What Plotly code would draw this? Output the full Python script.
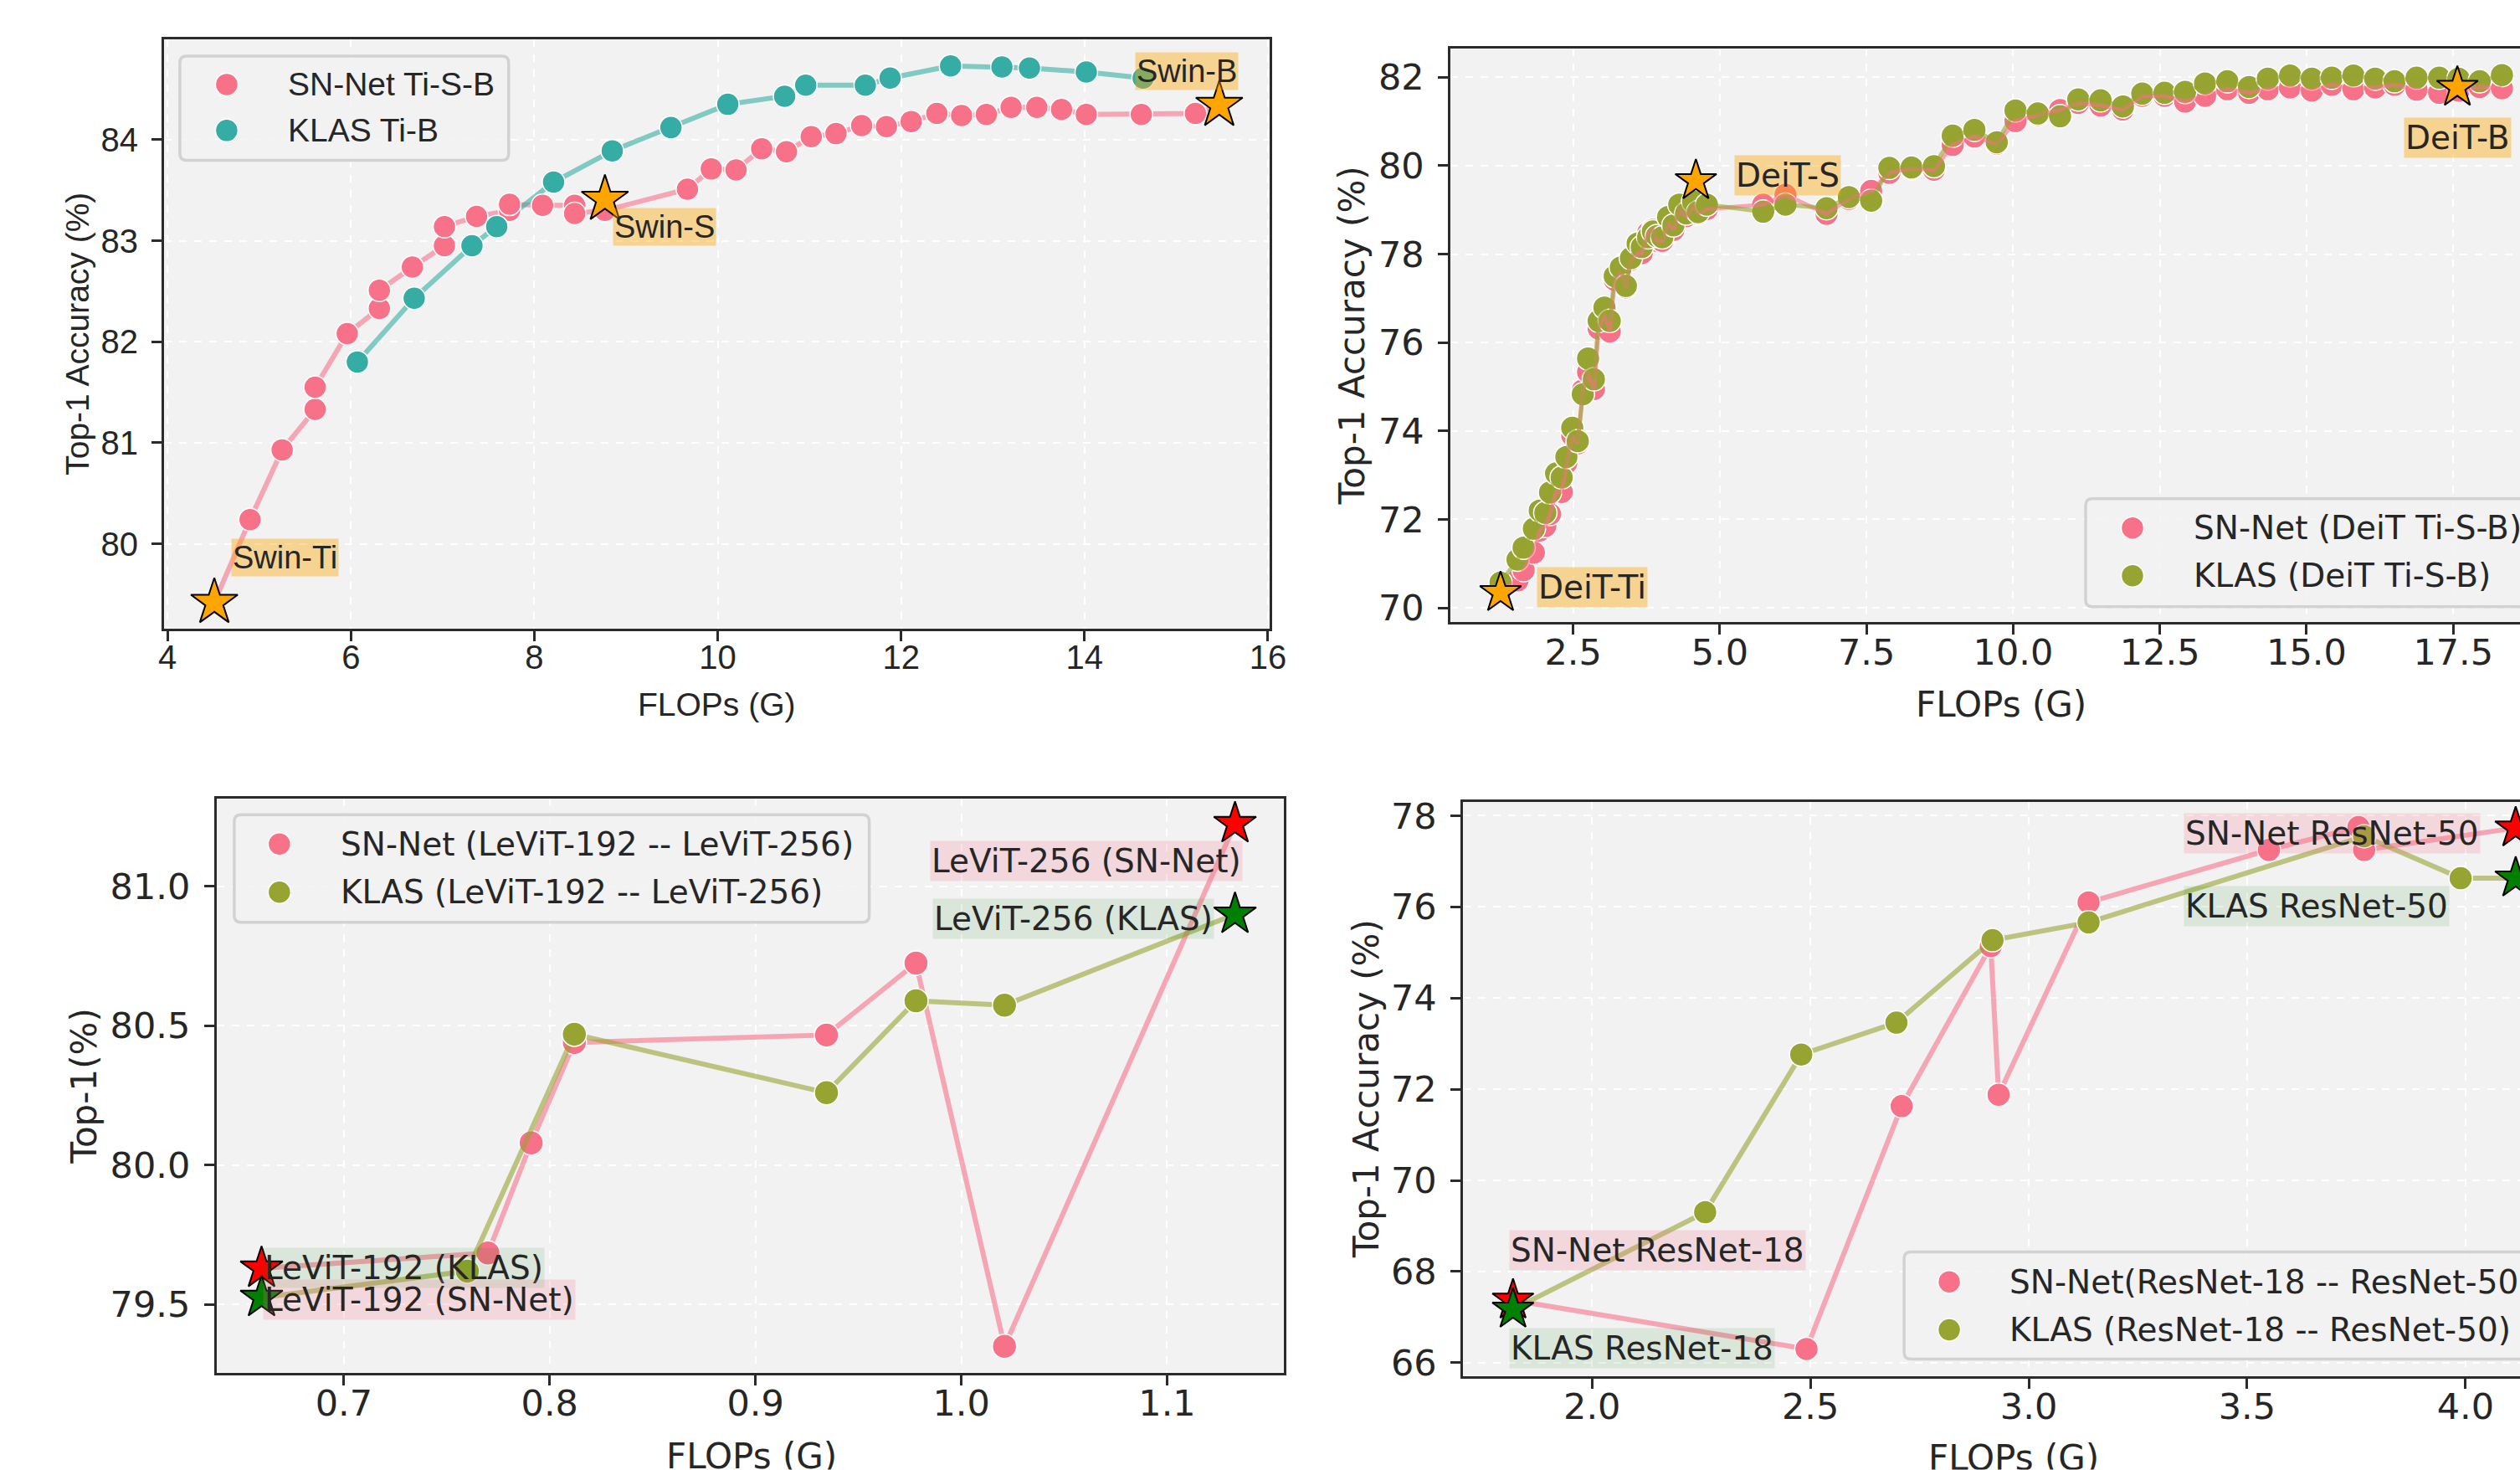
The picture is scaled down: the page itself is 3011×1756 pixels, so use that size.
import plotly.graph_objects as go

# figure slightly larger than the window so the capture is filled to its edges
W, H = 3037, 1773

# ---------------- data ----------------
# Panel 1: Swin (SN-Net Ti-S-B vs KLAS Ti-B)
swin_anchor_names = ["Swin-Ti", "Swin-S", "Swin-B"]
swin_anchor_flops = [4.51, 8.77, 15.47]
swin_anchor_acc = [79.42, 83.41, 84.34]
swin_sn_flops = [4.90, 5.25, 5.61, 5.61, 5.96, 6.31, 6.31, 6.67, 7.02, 7.02,
                 7.37, 7.73, 7.73, 8.09, 8.44, 8.44, 8.77, 9.67, 9.93, 10.20,
                 10.48, 10.75, 11.02, 11.29, 11.57, 11.84, 12.11, 12.39, 12.66, 12.93,
                 13.20, 13.48, 13.75, 14.02, 14.62, 15.21]
swin_sn_acc = [80.24, 80.93, 81.33, 81.55, 82.08, 82.33, 82.51, 82.74, 82.95, 83.14,
               83.24, 83.30, 83.36, 83.35, 83.35, 83.27, 83.30, 83.51, 83.71, 83.70,
               83.91, 83.88, 84.03, 84.06, 84.14, 84.13, 84.18, 84.26, 84.24, 84.25,
               84.32, 84.32, 84.30, 84.25, 84.25, 84.26]
swin_klas_flops = [6.07, 6.69, 7.32, 7.59, 8.21, 8.85, 9.49, 10.11, 10.73, 10.96,
                   11.61, 11.88, 12.54, 13.10, 13.40, 14.02, 14.64]
swin_klas_acc = [81.80, 82.43, 82.95, 83.14, 83.58, 83.89, 84.12, 84.35, 84.43, 84.54,
                 84.54, 84.61, 84.73, 84.72, 84.71, 84.67, 84.61]

# Panel 2: DeiT (shared FLOPs grid)
deit_anchor_names = ["DeiT-Ti", "DeiT-S", "DeiT-B"]
deit_anchor_flops = [1.264, 4.593, 17.57]
deit_anchor_acc = [70.34, 79.66, 81.77]
deit_flops = [1.264, 1.553, 1.657, 1.832, 1.932, 2.027, 2.107, 2.211, 2.306, 2.386,
              2.486, 2.580, 2.666, 2.756, 2.855, 2.936, 3.035, 3.125, 3.210, 3.314,
              3.400, 3.485, 3.600, 3.670, 3.780, 3.860, 3.930, 4.020, 4.120, 4.210,
              4.310, 4.430, 4.545, 4.630, 4.780,
              5.74, 6.12, 6.82, 7.20, 7.58, 7.89, 8.27, 8.65, 8.97, 9.34,
              9.72, 10.04, 10.42, 10.80, 11.11, 11.49, 11.87,
              12.20, 12.58, 12.93, 13.27, 13.65, 14.02, 14.34, 14.72, 15.09, 15.43,
              15.80, 16.17, 16.50, 16.875, 17.26, 17.59, 17.95, 18.33]
deit_klas_acc = [70.57, 71.09, 71.36, 71.79, 72.20, 72.15, 72.61, 73.04, 72.95, 73.41,
                 74.07, 73.77, 74.83, 75.64, 75.17, 76.49, 76.79, 76.49, 77.50, 77.70,
                 77.28, 77.91, 78.24, 78.16, 78.38, 78.51, 78.41, 78.38, 78.84, 78.65,
                 79.12, 78.92, 79.19, 78.95, 79.12,
                 78.96, 79.12, 79.04, 79.29, 79.21, 79.95, 79.96, 79.99, 80.68, 80.81,
                 80.53, 81.25, 81.18, 81.12, 81.50, 81.48, 81.34,
                 81.63, 81.65, 81.67, 81.86, 81.91, 81.78, 81.97, 82.04, 81.97, 81.99,
                 82.04, 81.97, 81.91, 81.99, 81.99, 81.97, 81.91, 82.05]
deit_sn_acc = [70.40, 70.62, 70.85, 71.25, 71.75, 71.85, 72.12, 72.62, 72.62, 73.28,
               73.90, 73.72, 74.92, 75.33, 74.95, 76.32, 76.65, 76.25, 77.42, 77.62,
               77.25, 77.87, 78.02, 78.02, 78.48, 78.55, 78.30, 78.30, 78.72, 78.55,
               79.02, 78.86, 79.10, 78.92, 79.02,
               79.12, 79.34, 78.91, 79.25, 79.43, 79.84, 79.94, 79.91, 80.47, 80.66,
               80.50, 81.01, 81.15, 81.26, 81.42, 81.36, 81.27,
               81.58, 81.58, 81.45, 81.58, 81.73, 81.65, 81.73, 81.77, 81.70, 81.83,
               81.73, 81.77, 81.83, 81.72, 81.65, 81.70, 81.78, 81.75]

# Panel 3: LeViT-192 -- LeViT-256 (first / last entries are the anchors)
levit_sn_flops = [0.660, 0.770, 0.791, 0.812, 0.9345, 0.978, 1.021, 1.133]
levit_sn_acc = [79.63, 79.685, 80.08, 80.44, 80.467, 80.725, 79.35, 81.225]
levit_klas_flops = [0.660, 0.760, 0.812, 0.9345, 0.978, 1.021, 1.133]
levit_klas_acc = [79.525, 79.62, 80.47, 80.26, 80.59, 80.574, 80.90]

# Panel 4: ResNet-18 -- ResNet-50 (first / last entries are the anchors)
resnet_sn_flops = [1.819, 2.491, 2.709, 2.913, 2.931, 3.137, 3.55, 3.755, 3.768, 4.115]
resnet_sn_acc = [67.37, 66.30, 71.63, 75.14, 71.88, 76.10, 77.25, 77.75, 77.25, 77.73]
resnet_klas_flops = [1.819, 2.259, 2.479, 2.697, 2.917, 3.137, 3.768, 3.989, 4.115]
resnet_klas_acc = [67.17, 69.30, 72.76, 73.46, 75.27, 75.66, 77.55, 76.63, 76.63]

# tick labels
p1_xticks = [4, 6, 8, 10, 12, 14, 16]
p1_yticks = [80, 81, 82, 83, 84]
p2_xticks = [2.5, 5.0, 7.5, 10.0, 12.5, 15.0, 17.5]
p2_yticks = [70, 72, 74, 76, 78, 80, 82]
p3_xticks = [0.7, 0.8, 0.9, 1.0, 1.1]
p3_yticks = [79.5, 80.0, 80.5, 81.0]
p4_xticks = [2.0, 2.5, 3.0, 3.5, 4.0]
p4_yticks = [66, 68, 70, 72, 74, 76, 78]

# ---------------- style ----------------
PINK, TEAL, OLIVE = "#f77189", "#36ada4", "#97a431"
PINK_L, TEAL_L, OLIVE_L = "rgba(247,113,137,0.6)", "rgba(54,173,164,0.6)", "rgba(151,164,49,0.6)"
ORANGE_BOX = "rgba(255,165,0,0.4)"
PINK_BOX = "rgba(247,113,137,0.2)"
GREEN_BOX = "rgba(0,128,0,0.1)"
F1 = "Liberation Sans, Arial, sans-serif"
F2 = "DejaVu Sans, sans-serif"
TXT = "#262626"
SPINE = "#2b2b2b"
TARGET_W, TARGET_H = 3011, 1756

# layout positions are given in target-picture pixels; the capture of the page
# comes out very slightly shrunk and shifted, which is compensated here
SX, OX = 0.9915, 6.0
SY, OY = 0.9906, 7.1


def TX(t):
    return (t - OX) / SX


def TY(t):
    return (t - OY) / SY


def px(x):
    return TX(x) / W


def py(y):
    return 1 - TY(y) / H


EDGE_X = TX(TARGET_W)   # figure column that lands on the picture's right edge
EDGE_Y = TY(TARGET_H)   # figure row that lands on the picture's bottom edge
VIS_RIGHT = OX + SX * W

fig = go.Figure()


def sc(x, y, xa, ya, mode, **kw):
    fig.add_trace(go.Scatter(x=x, y=y, xaxis=xa, yaxis=ya, mode=mode,
                             showlegend=False, hoverinfo="skip", **kw))


def circles(x, y, xa, ya, color, size):
    sc(x, y, xa, ya, "markers",
       marker=dict(size=size, color=color, line=dict(color="white", width=1.5)))


def line(x, y, xa, ya, color, width=6):
    sc(x, y, xa, ya, "lines", line=dict(color=color, width=width))


def stars(x, y, xa, ya, color, size):
    sc(x, y, xa, ya, "markers",
       marker=dict(symbol="star", size=size, color=color, line=dict(color="black", width=2)))


# Panel 1
line([swin_anchor_flops[0]] + swin_sn_flops + [swin_anchor_flops[2]],
     [swin_anchor_acc[0]] + swin_sn_acc + [swin_anchor_acc[2]], "x", "y", PINK_L)
line(swin_klas_flops, swin_klas_acc, "x", "y", TEAL_L)
circles(swin_sn_flops, swin_sn_acc, "x", "y", PINK, 27)
circles(swin_klas_flops, swin_klas_acc, "x", "y", TEAL, 27)
stars(swin_anchor_flops, swin_anchor_acc, "x", "y", "#ffa500", 42)

# Panel 2
circles(deit_flops, deit_sn_acc, "x2", "y2", PINK, 28)
circles(deit_flops, deit_klas_acc, "x2", "y2", OLIVE, 28)
line(deit_flops, deit_sn_acc, "x2", "y2", PINK_L, 5)
line(deit_flops, deit_klas_acc, "x2", "y2", OLIVE_L, 5)
stars(deit_anchor_flops, deit_anchor_acc, "x2", "y2", "#ffa500", 37)

# Panel 3
line(levit_sn_flops, levit_sn_acc, "x3", "y3", PINK_L)
circles(levit_sn_flops[1:-1], levit_sn_acc[1:-1], "x3", "y3", PINK, 29)
line(levit_klas_flops, levit_klas_acc, "x3", "y3", OLIVE_L)
circles(levit_klas_flops[1:-1], levit_klas_acc[1:-1], "x3", "y3", OLIVE, 29)
stars([levit_sn_flops[0], levit_sn_flops[-1]], [levit_sn_acc[0], levit_sn_acc[-1]], "x3", "y3", "#ff0000", 38)
stars([levit_klas_flops[0], levit_klas_flops[-1]], [levit_klas_acc[0], levit_klas_acc[-1]], "x3", "y3", "#008000", 38)

# Panel 4
line(resnet_sn_flops, resnet_sn_acc, "x4", "y4", PINK_L)
circles(resnet_sn_flops[1:-1], resnet_sn_acc[1:-1], "x4", "y4", PINK, 28)
line(resnet_klas_flops, resnet_klas_acc, "x4", "y4", OLIVE_L)
circles(resnet_klas_flops[1:-1], resnet_klas_acc[1:-1], "x4", "y4", OLIVE, 28)
stars([resnet_sn_flops[0], resnet_sn_flops[-1]], [resnet_sn_acc[0], resnet_sn_acc[-1]], "x4", "y4", "#ff0000", 37)
stars([resnet_klas_flops[0], resnet_klas_flops[-1]], [resnet_klas_acc[0], resnet_klas_acc[-1]], "x4", "y4", "#008000", 37)


def axis(domain, rng, ticks, fam, fsize, anchor, is_x, mirror=True, fmt=None):
    d = dict(domain=domain, range=rng, tickvals=ticks, anchor=anchor,
             showline=True, linewidth=3, linecolor=SPINE, mirror=mirror,
             ticks="outside", ticklen=12, tickwidth=2.5, tickcolor=SPINE,
             showgrid=True, gridcolor="white", griddash="dash", gridwidth=1.5,
             zeroline=False, ticklabelstandoff=(-15 if is_x else 8),
             tickfont=dict(family=fam, size=fsize, color=TXT))
    if fmt:
        d["tickformat"] = fmt
    return d


# x-ranges of the right-hand panels end where the figure ends
p2_xmax = 2.5 + (VIS_RIGHT - 1879.3) / 70.14
p4_xmax = 2.0 + (VIS_RIGHT - 1902.0) / 522.0

layout = dict(
    width=W, height=H, margin=dict(l=0, r=0, t=0, b=0),
    paper_bgcolor="white", plot_bgcolor="#f2f2f2", showlegend=False,
    xaxis=axis([px(195), px(1517)], [3.961, 16.023], p1_xticks, F1, 40, "y", True),
    yaxis=axis([py(750), py(46)], [79.162, 84.994], p1_yticks, F1, 40, "x", False),
    xaxis2=axis([px(1733), 1.0], [0.414, p2_xmax], p2_xticks, F2, 43, "y2", True, fmt=".1f"),
    yaxis2=axis([py(742), py(57.5)], [69.684, 82.642], p2_yticks, F2, 43, "x2", False, mirror=False),
    xaxis3=axis([px(258), px(1534)], [0.6382, 1.1569], p3_xticks, F2, 43, "y3", True, fmt=".1f"),
    yaxis3=axis([py(1639), py(953)], [79.256, 81.316], p3_yticks, F2, 43, "x3", False, fmt=".1f"),
    xaxis4=axis([px(1748), 1.0], [1.705, p4_xmax], p4_xticks, F2, 43, "y4", True, fmt=".1f"),
    yaxis4=axis([py(1643), py(957)], [65.71, 78.307], p4_yticks, F2, 43, "x4", False, mirror=False),
)

ann = []


def label(text, x, y, xr, yr, bg, fam, xanchor="left", size=39):
    ann.append(dict(text=text, x=x, y=y, xref=xr, yref=yr, xanchor=xanchor, yanchor="middle",
                    showarrow=False, bgcolor=bg, borderpad=1,
                    font=dict(family=fam, size=size, color=TXT)))


# point labels
label(swin_anchor_names[0], 4.695, 79.862, "x", "y", ORANGE_BOX, F1, size=38)
label(swin_anchor_names[1], 8.85, 83.138, "x", "y", ORANGE_BOX, F1, size=38)
label(swin_anchor_names[2], 14.553, 84.679, "x", "y", ORANGE_BOX, F1, size=38)
label(deit_anchor_names[0], 1.883, 70.464, "x2", "y2", ORANGE_BOX, F2)
label(deit_anchor_names[1], 5.238, 79.78, "x2", "y2", ORANGE_BOX, F2)
label(deit_anchor_names[2], 17.57, 80.634, "x2", "y2", ORANGE_BOX, F2, xanchor="center")
label("LeViT-256 (SN-Net)", 1.137, 81.092, "x3", "y3", PINK_BOX, F2, xanchor="right")
label("LeViT-256 (KLAS)", 1.1228, 80.883, "x3", "y3", GREEN_BOX, F2, xanchor="right")
label("LeViT-192 (KLAS)", 0.6606, 79.632, "x3", "y3", GREEN_BOX, F2)
label("LeViT-192 (SN-Net)", 0.6606, 79.519, "x3", "y3", PINK_BOX, F2)
label("SN-Net ResNet-50", 3.354, 77.609, "x4", "y4", PINK_BOX, F2)
label("KLAS ResNet-50", 3.354, 76.011, "x4", "y4", GREEN_BOX, F2)
label("SN-Net ResNet-18", 1.810, 68.465, "x4", "y4", PINK_BOX, F2)
label("KLAS ResNet-18", 1.810, 66.316, "x4", "y4", GREEN_BOX, F2)


def title(text, xp, yp, fam, size, angle=0):
    ann.append(dict(text=text, x=px(xp), y=py(yp), xref="paper", yref="paper",
                    xanchor="center", yanchor="middle", showarrow=False, textangle=angle,
                    font=dict(family=fam, size=size, color=TXT)))


def bottom_title(text, xp, fam, size, top_px):
    # title that runs off the bottom edge: clip its box at the picture bottom
    ann.append(dict(text=text, x=px(xp), y=1 - EDGE_Y / H, xref="paper", yref="paper",
                    xanchor="center", yanchor="bottom", showarrow=False,
                    height=max(10, EDGE_Y - TY(top_px) - 2), valign="top", borderpad=1,
                    font=dict(family=fam, size=size, color=TXT)))


title("FLOPs (G)", 856, 841, F1, 39)
title("Top-1 Accuracy (%)", 92, 398, F1, 39, -90)
title("FLOPs (G)", 2391, 841, F2, 42)
title("Top-1 Accuracy (%)", 1615, 400, F2, 42, -90)
bottom_title("FLOPs (G)", 897, F2, 42, 1714)
title("Top-1(%)", 100, 1297, F2, 42, -90)
bottom_title("FLOPs (G)", 2406, F2, 42, 1716)
title("Top-1 Accuracy (%)", 1632, 1300, F2, 42, -90)

# legends (frame + marker + text)
shapes = []


def rrect(x0, y0, x1, y1, r=8, open_right=False):
    def P(x, y):
        return f"{px(x):.6f},{py(y):.6f}"
    if open_right:
        path = (f"M 1,{py(y0):.6f} L {P(x0 + r, y0)} Q {P(x0, y0)} {P(x0, y0 + r)} "
                f"L {P(x0, y1 - r)} Q {P(x0, y1)} {P(x0 + r, y1)} L 1,{py(y1):.6f}")
    else:
        path = (f"M {P(x0 + r, y0)} L {P(x1 - r, y0)} Q {P(x1, y0)} {P(x1, y0 + r)} "
                f"L {P(x1, y1 - r)} Q {P(x1, y1)} {P(x1 - r, y1)} L {P(x0 + r, y1)} "
                f"Q {P(x0, y1)} {P(x0, y1 - r)} L {P(x0, y0 + r)} Q {P(x0, y0)} {P(x0 + r, y0)} Z")
    return dict(type="path", path=path, xref="paper", yref="paper",
                fillcolor="rgba(242,242,242,0.85)", line=dict(color="#d2d2d2", width=3.5))


def legend(frame, mx, tx, rows, fam, size=39, msize=27, open_right=False):
    shapes.append(rrect(*frame, open_right=open_right))
    for (yrow, color, text) in rows:
        shapes.append(dict(type="circle", xref="paper", yref="paper",
                           xsizemode="pixel", ysizemode="pixel",
                           xanchor=px(mx), yanchor=py(yrow),
                           x0=-msize / 2, x1=msize / 2, y0=-msize / 2, y1=msize / 2,
                           fillcolor=color, line=dict(color="white", width=1.5)))
        a = dict(text=text, x=px(tx), y=py(yrow), xref="paper", yref="paper",
                 xanchor="left", yanchor="middle", showarrow=False, align="left",
                 borderpad=0, font=dict(family=fam, size=size, color=TXT))
        if open_right:
            a["width"] = EDGE_X - TX(tx)  # text running past the picture edge is clipped there
        ann.append(a)


legend((214, 66, 607, 190.6), 270, 342,
       [(100, PINK, "SN-Net Ti-S-B"), (155, TEAL, "KLAS Ti-B")], F1)
legend((2492, 595, TARGET_W, 724), 2548, 2620,
       [(630, PINK, "SN-Net (DeiT Ti-S-B)"), (687, OLIVE, "KLAS (DeiT Ti-S-B)")], F2, open_right=True)
legend((279, 972.6, 1038, 1101), 333, 405.5,
       [(1007.6, PINK, "SN-Net (LeViT-192 -- LeViT-256)"), (1065, OLIVE, "KLAS (LeViT-192 -- LeViT-256)")], F2)
legend((2275, 1495, TARGET_W, 1623), 2329, 2400,
       [(1530.6, PINK, "SN-Net(ResNet-18 -- ResNet-50)"), (1588, OLIVE, "KLAS (ResNet-18 -- ResNet-50)")], F2, open_right=True)

layout["annotations"] = ann
layout["shapes"] = shapes
fig.update_layout(**layout)
fig.write_html("out.html", config={"displayModeBar": False},
               post_script="document.body.style.margin='0';document.body.style.overflow='hidden';")
